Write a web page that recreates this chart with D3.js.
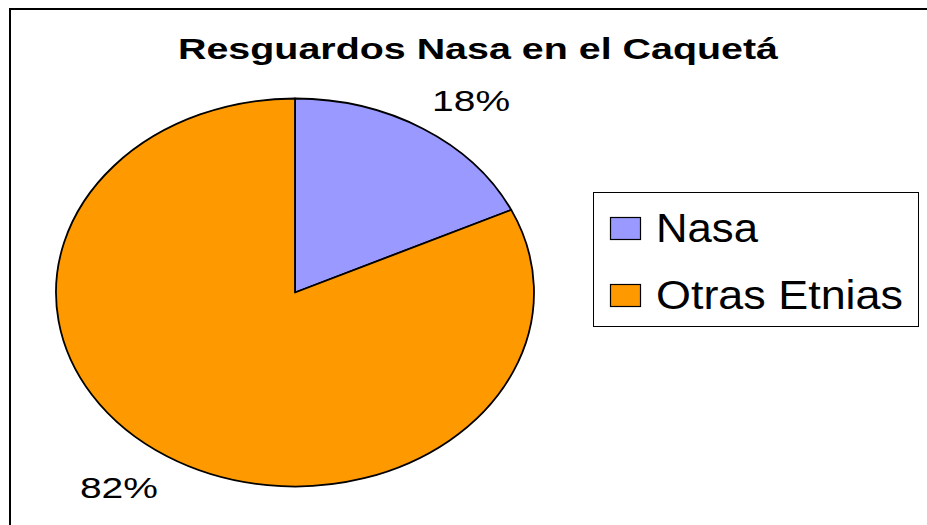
<!DOCTYPE html>
<html>
<head>
<meta charset="utf-8">
<script src="https://cdn.jsdelivr.net/npm/d3@7"></script>
<style>
  body { margin: 0; background: #fff; }
  text { font-family: "Liberation Sans", Arial, sans-serif; fill: #000; }
</style>
</head>
<body>
<div id="chart"></div>
<script>
// Chart data
const categories = ["Nasa", "Otras Etnias"];
const values = [18, 82];
const colors = ["#9999FF", "#FF9900"];
const title = "Resguardos Nasa en el Caquetá";

const width = 927,
  height = 525;

const svg = d3
  .select("#chart")
  .append("svg")
  .attr("width", width)
  .attr("height", height);

// Outer frame (runs off the picture on the right and bottom)
svg
  .append("rect")
  .attr("x", 10)
  .attr("y", 9)
  .attr("width", 1000)
  .attr("height", 1000)
  .attr("fill", "#fff")
  .attr("stroke", "#000")
  .attr("stroke-width", 2);

// Title
svg
  .append("text")
  .attr("x", 478)
  .attr("y", 59)
  .attr("text-anchor", "middle")
  .attr("font-weight", "bold")
  .attr("font-size", 29)
  .attr("textLength", 600)
  .attr("lengthAdjust", "spacingAndGlyphs")
  .text(title);

// Pie is drawn as a circle then stretched horizontally into an ellipse
const cx = 295,
  cy = 292.5,
  rx = 239,
  ry = 194;

const pie = d3
  .pie()
  .sort(null)
  .value((d) => d.value);

const pieData = pie(categories.map((c, i) => ({ key: c, value: values[i] })));

const arc = d3.arc().innerRadius(0).outerRadius(ry);

const pieG = svg
  .append("g")
  .attr("transform", `translate(${cx},${cy}) scale(${rx / ry},1)`);

pieG
  .selectAll("path")
  .data(pieData)
  .enter()
  .append("path")
  .attr("d", arc)
  .attr("fill", (d, i) => colors[i])
  .attr("stroke", "#000")
  .attr("stroke-width", 1.8)
  .attr("vector-effect", "non-scaling-stroke")
  .attr("stroke-linejoin", "round");

// Percentage labels placed outside the pie
const total = d3.sum(values);
const labelKx = 1.375,
  labelKy = 1.18;

svg
  .selectAll(".pct")
  .data(pieData)
  .enter()
  .append("text")
  .attr("class", "pct")
  .attr("x", (d) => {
    const a = (d.startAngle + d.endAngle) / 2;
    return cx + rx * labelKx * Math.sin(a);
  })
  .attr("y", (d) => {
    const a = (d.startAngle + d.endAngle) / 2;
    return cy - ry * labelKy * Math.cos(a) + 12;
  })
  .attr("text-anchor", "middle")
  .attr("font-size", 30)
  .attr("textLength", 78)
  .attr("lengthAdjust", "spacingAndGlyphs")
  .text((d) => Math.round((d.value / total) * 100) + "%");

// Legend
const legend = svg.append("g");

legend
  .append("rect")
  .attr("x", 593.5)
  .attr("y", 192.5)
  .attr("width", 325)
  .attr("height", 134)
  .attr("fill", "#fff")
  .attr("stroke", "#000")
  .attr("stroke-width", 1);

const legendTextWidths = [102, 247];

const items = legend
  .selectAll(".item")
  .data(categories)
  .enter()
  .append("g")
  .attr("class", "item")
  .attr("transform", (d, i) => `translate(0, ${i * 67})`);

items
  .append("rect")
  .attr("x", 610.5)
  .attr("y", 217.5)
  .attr("width", 30)
  .attr("height", 22)
  .attr("fill", (d, i) => colors[i])
  .attr("stroke", "#000")
  .attr("stroke-width", 1.2);

items
  .append("text")
  .attr("x", 656)
  .attr("y", 242)
  .attr("font-size", 40)
  .attr("textLength", (d, i) => legendTextWidths[i])
  .attr("lengthAdjust", "spacingAndGlyphs")
  .text((d) => d);
</script>
</body>
</html>
